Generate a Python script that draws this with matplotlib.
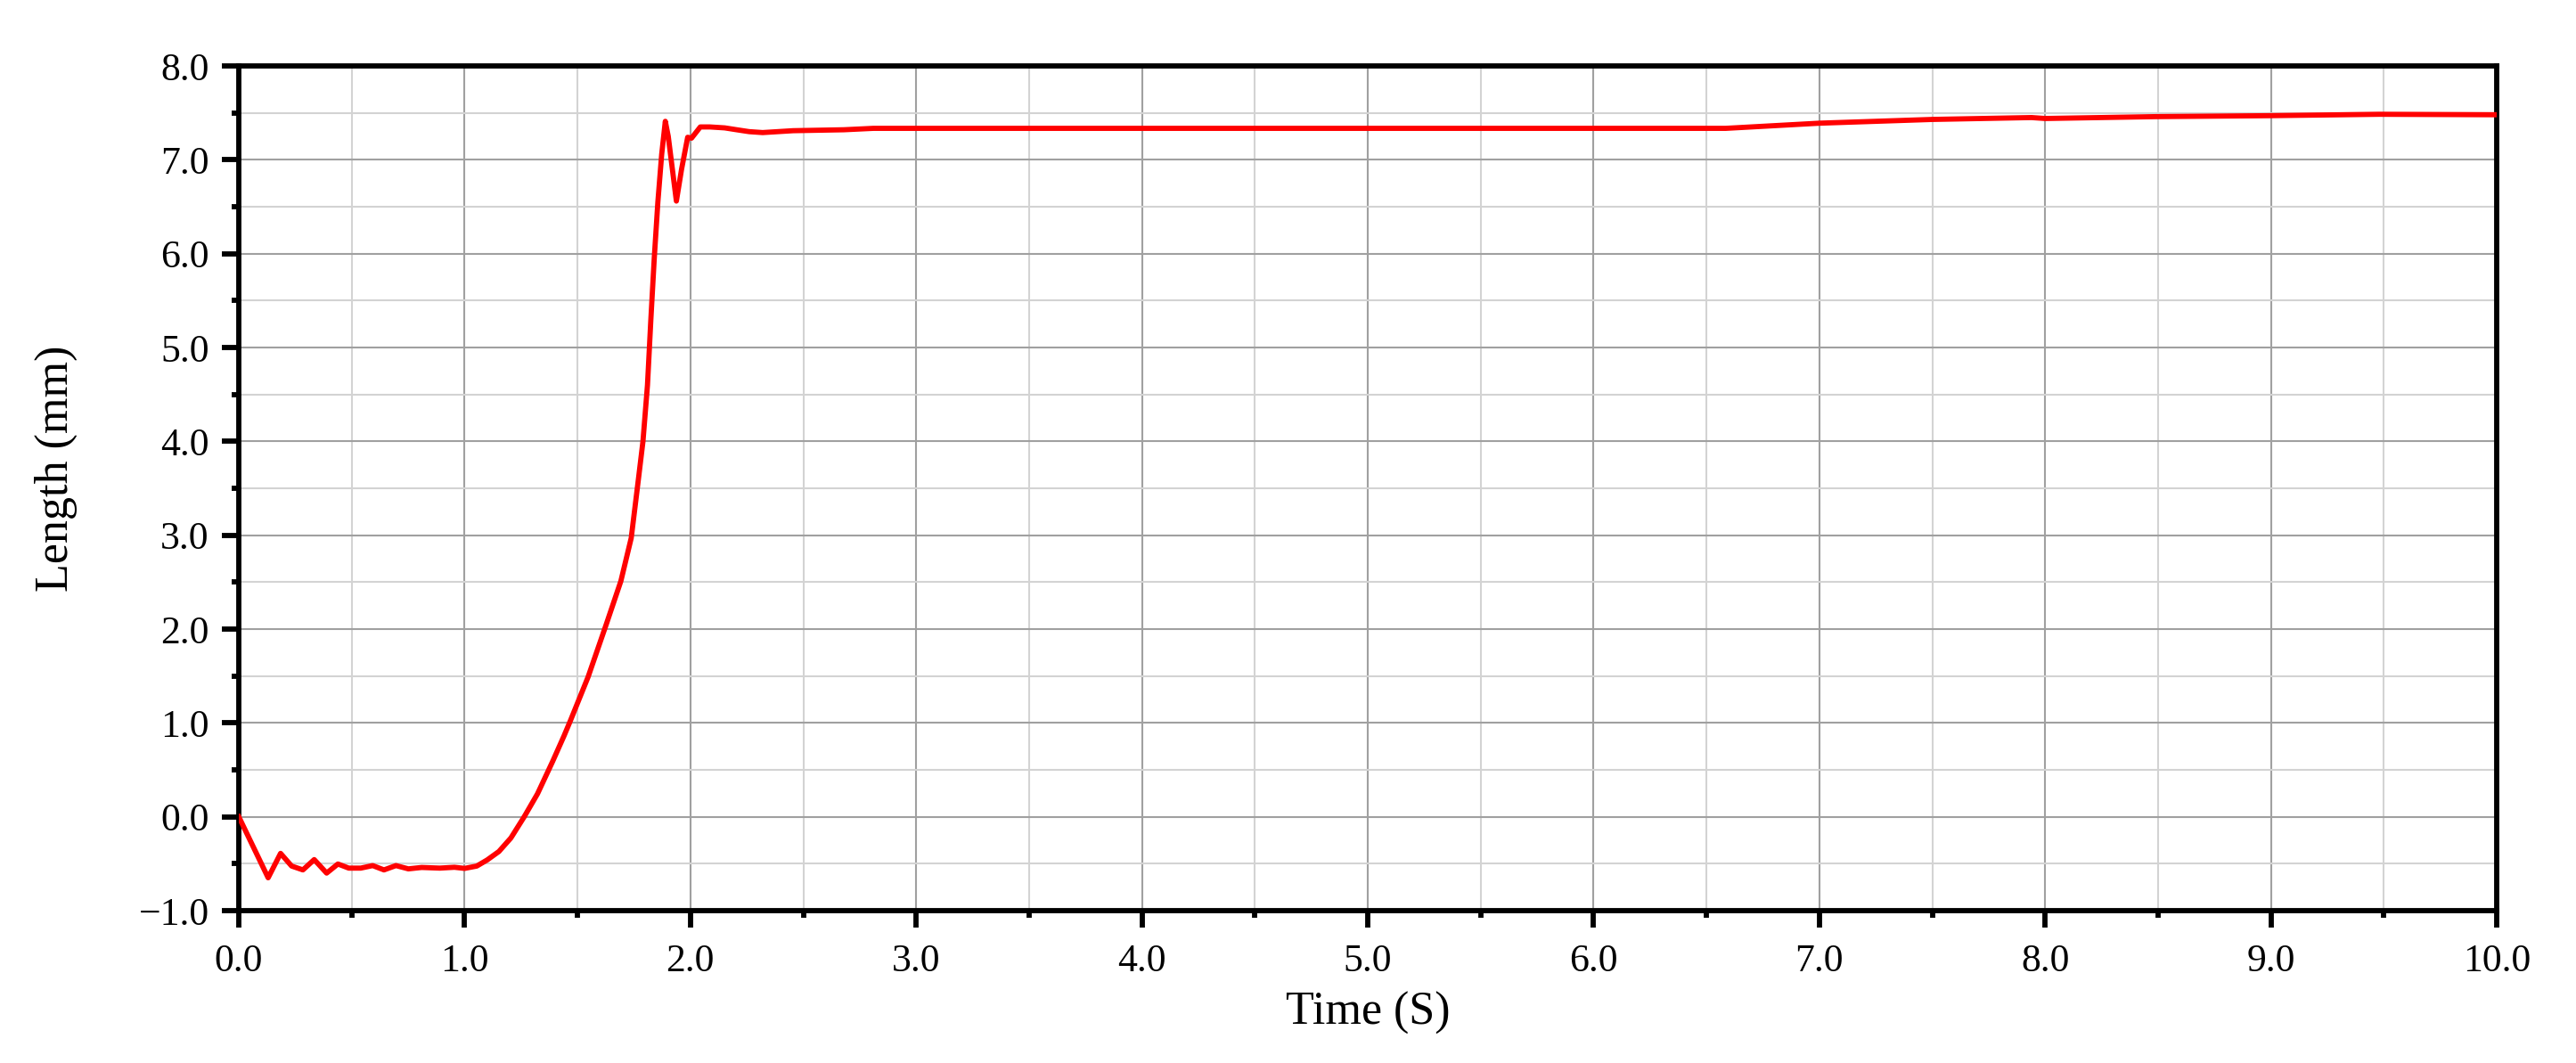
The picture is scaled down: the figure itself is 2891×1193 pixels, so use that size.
"""Plot the measured length response over time."""

from __future__ import annotations

from pathlib import Path

import matplotlib

matplotlib.use("Agg")
import matplotlib.pyplot as plt
from matplotlib.ticker import FuncFormatter, MultipleLocator

# values
time_s = [
    0.0, 0.13, 0.185, 0.234, 0.284, 0.334, 0.389, 0.439, 0.487, 0.54,
    0.593, 0.643, 0.696, 0.751, 0.81, 0.89, 0.955, 1.0, 1.054, 1.1,
    1.152, 1.205, 1.264, 1.323, 1.39, 1.44, 1.468, 1.547, 1.626, 1.692,
    1.738, 1.77, 1.79, 1.81, 1.825, 1.84, 1.856, 1.873, 1.889, 1.902,
    1.938, 1.961, 1.988, 2.005, 2.044, 2.086, 2.152, 2.205, 2.26, 2.32,
    2.455, 2.68, 2.81, 3.5, 4.5, 5.5, 6.0, 6.585, 7.0, 7.5,
    7.94, 8.0, 8.49, 8.99, 9.48, 10.0,
]
length_mm = [
    0.0, -0.65, -0.39, -0.525, -0.566, -0.456, -0.60, -0.503, -0.547, -0.547,
    -0.52, -0.566, -0.52, -0.555, -0.54, -0.547, -0.538, -0.55, -0.525, -0.46,
    -0.37, -0.226, 0.0, 0.245, 0.59, 0.86, 1.02, 1.49, 2.04, 2.51,
    2.97, 3.6, 4.0, 4.6, 5.3, 5.95, 6.55, 7.06, 7.41, 7.25,
    6.56, 6.90, 7.24, 7.23, 7.35, 7.35, 7.34, 7.32, 7.30, 7.29,
    7.31, 7.32, 7.335, 7.335, 7.335, 7.335, 7.335, 7.335, 7.39, 7.43,
    7.45, 7.44, 7.46, 7.47, 7.485, 7.48,
]

x_limits = (0.0, 10.0)
y_limits = (-1.0, 8.0)


def one_decimal(value: float, _pos: int) -> str:
    """Format a tick with one decimal and a true minus sign."""
    return f"{value:.1f}".replace("-", "\u2212")


def plot_length_response(output_path: Path) -> None:
    """Draw the length-vs-time curve with a fine half-unit grid."""
    plt.rcParams["font.family"] = ["Liberation Serif", "DejaVu Serif"]

    fig = plt.figure(figsize=(2891 / 300, 1193 / 300), dpi=300)
    ax = fig.add_axes([268 / 2891, 1 - 1022 / 1193, 2534 / 2891, 948 / 1193])

    ax.plot(time_s, length_mm, color="#ff0000", linewidth=1.4, zorder=3)

    ax.set_xlim(*x_limits)
    ax.set_ylim(*y_limits)

    ax.xaxis.set_major_locator(MultipleLocator(1.0))
    ax.xaxis.set_minor_locator(MultipleLocator(0.5))
    ax.yaxis.set_major_locator(MultipleLocator(1.0))
    ax.yaxis.set_minor_locator(MultipleLocator(0.5))
    ax.xaxis.set_major_formatter(FuncFormatter(one_decimal))
    ax.yaxis.set_major_formatter(FuncFormatter(one_decimal))

    ax.grid(which="minor", color="#d3d3d3", linewidth=0.5, zorder=0)
    ax.grid(which="major", color="#a0a0a0", linewidth=0.5, zorder=1)
    ax.set_axisbelow(True)

    for spine in ax.spines.values():
        spine.set_linewidth(1.4)

    ax.tick_params(which="both", direction="out", top=False, right=False,
                   width=1.4, colors="black")
    ax.tick_params(which="major", length=4.5, labelsize=10.5)
    ax.tick_params(which="minor", length=2.0)
    ax.tick_params(axis="x", which="major", pad=4.5)
    ax.tick_params(axis="y", which="major", pad=3.5)

    ax.set_xlabel("Time (S)", fontsize=12.5)
    ax.set_ylabel("Length (mm)", fontsize=12.5)
    ax.xaxis.set_label_coords(0.5, -0.121)
    ax.xaxis.label.set_verticalalignment("center")
    ax.yaxis.set_label_coords(-0.081, 0.523)
    ax.yaxis.label.set_verticalalignment("center")

    fig.savefig(output_path, dpi=300)
    plt.close(fig)


if __name__ == "__main__":
    plot_length_response(Path("out.png"))
